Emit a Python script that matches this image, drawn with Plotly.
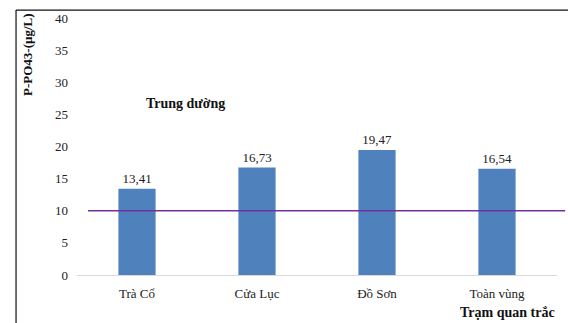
import plotly.graph_objects as go

categories = ["Trà Cổ", "Cửa Lục", "Đồ Sơn", "Toàn vùng"]
values = [13.41, 16.73, 19.47, 16.54]
labels = ["13,41", "16,73", "19,47", "16,54"]
threshold = 10
y_ticks = [0, 5, 10, 15, 20, 25, 30, 35, 40]

FONT = "Liberation Serif"

fig = go.Figure()
fig.add_trace(go.Bar(
    x=categories, y=values, text=labels, textposition="outside",
    textfont=dict(family=FONT, size=13, color="#222"),
    marker=dict(color="#4F81BD", line=dict(width=0)),
    width=0.31, cliponaxis=False,
))

fig.add_shape(type="line", xref="paper", yref="y", x0=0.023, x1=1.017,
              y0=threshold, y1=threshold, line=dict(color="#7030A0", width=1.5))
# border lines
fig.add_shape(type="line", xref="paper", yref="paper", x0=-0.127, x1=1.05,
              y0=1.031, y1=1.031, line=dict(color="#111", width=1.2))
fig.add_shape(type="line", xref="paper", yref="paper", x0=-0.127, x1=-0.127,
              y0=1.031, y1=-0.2, line=dict(color="#111", width=1.2))

fig.add_annotation(text="<b>P-PO43-(µg/L)</b>", xref="paper", yref="paper",
                   x=(27 - 77) / 480, y=(275 - 55) / 257, textangle=-90,
                   xanchor="center", yanchor="middle",
                   showarrow=False, font=dict(family=FONT, size=13, color="#111"))
fig.add_annotation(text="<b>Trung dường</b>", xref="paper", yref="paper",
                   x=(185 - 77) / 480, y=(275 - 103) / 257,
                   xanchor="center", yanchor="middle",
                   showarrow=False, font=dict(family=FONT, size=14, color="#111"))
fig.add_annotation(text="<b>Trạm quan trắc</b>", xref="paper", yref="paper",
                   x=(507 - 77) / 480, y=(275 - 312) / 257,
                   xanchor="center", yanchor="middle",
                   showarrow=False, font=dict(family=FONT, size=14, color="#111"))

fig.update_layout(
    width=568, height=323,
    margin=dict(l=77, r=11, t=18, b=48),
    paper_bgcolor="white", plot_bgcolor="white",
    showlegend=False,
    xaxis=dict(showline=True, linecolor="#d9d9d9", linewidth=1,
               ticks="", ticklabelstandoff=6,
               tickfont=dict(family=FONT, size=13, color="#222"),
               range=[-0.5, 3.5]),
    yaxis=dict(range=[0, 40], tickvals=y_ticks, showgrid=False, zeroline=False,
               showline=False, ticks="", ticklabelstandoff=8,
               tickfont=dict(family=FONT, size=13, color="#222")),
)
fig.write_html("out.html")
